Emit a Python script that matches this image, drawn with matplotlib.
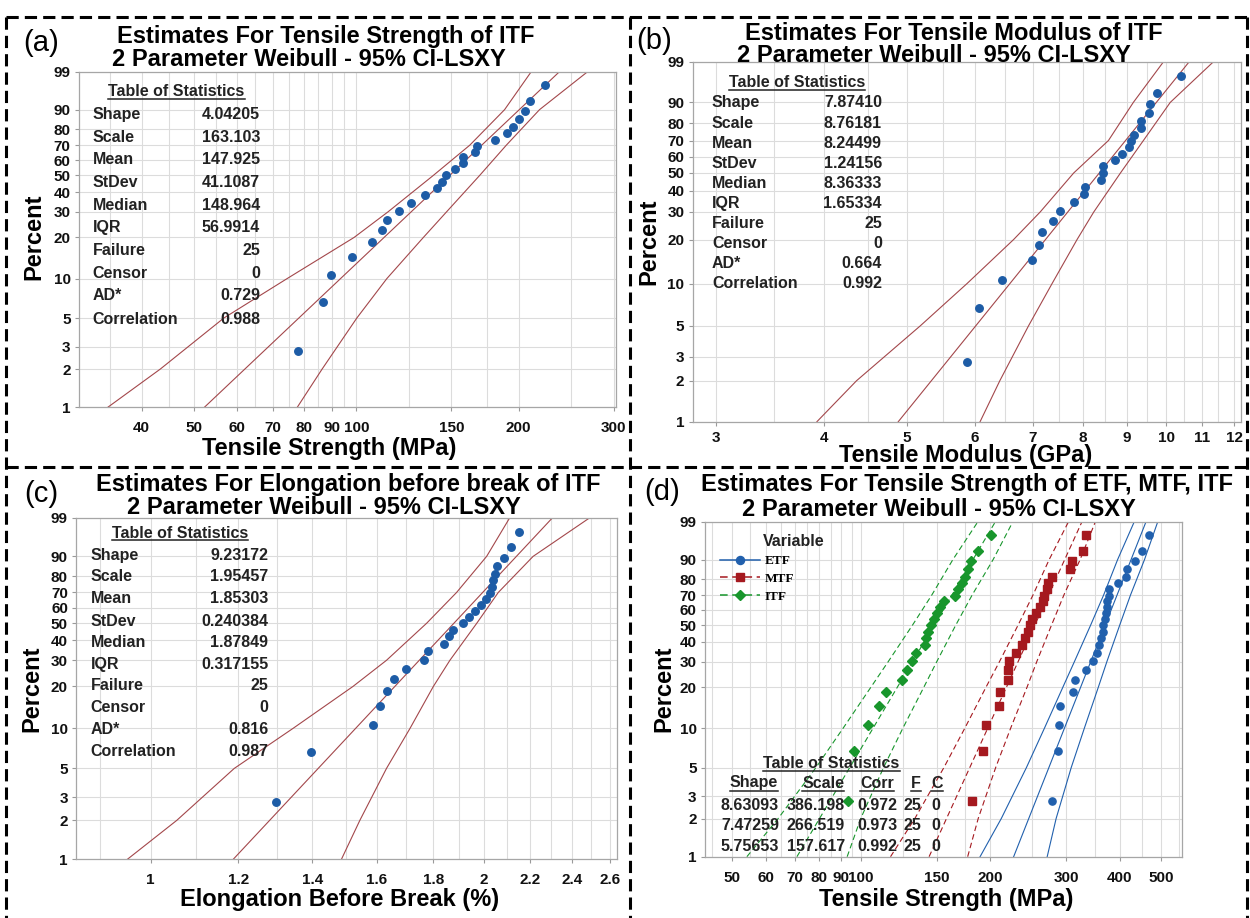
import numpy as np
import matplotlib
matplotlib.use("Agg")
import matplotlib.pyplot as plt
from matplotlib.lines import Line2D
from matplotlib.ticker import NullLocator, NullFormatter

plt.rcParams['font.family'] = ['Liberation Sans', 'DejaVu Sans']

W, H = 1250, 918

#------------------------------------------------------------------------
# Data
#------------------------------------------------------------------------

# plotting position (percent) of the 25 ranked specimens
pct = [2.76, 6.69, 10.63, 14.57, 18.50, 22.44, 26.38, 30.31, 34.25, 38.19,
       42.13, 46.06, 50.00, 53.94, 57.87, 61.81, 65.75, 69.69, 73.62, 77.56,
       81.50, 85.43, 89.37, 93.31, 97.24]
pct_ticks = [1, 2, 3, 5, 10, 20, 30, 40, 50, 60, 70, 80, 90, 99]
band_pct = [1, 2, 5, 10, 20, 30, 50, 70, 90, 99]
stat_names = ["Shape", "Scale", "Mean", "StDev", "Median", "IQR",
              "Failure", "Censor", "AD*", "Correlation"]

# (a) tensile strength of ITF
a_vals = [77.9, 86.7, 89.9, 98.1, 107.0, 111.6, 114.0, 120.0, 126.3, 134.1,
          140.9, 144.0, 146.8, 152.1, 157.4, 157.7, 166.0, 167.4, 180.8, 190.0,
          195.2, 200.3, 205.5, 210.1, 223.4]
a_shape, a_scale = 4.04205, 163.103
a_ci_left = [34.6, 43.3, 56.8, 74.4, 99.0, 114.5, 138.9, 162.3, 188.3, 211.0]
a_ci_right = [77.7, 86.4, 100.2, 113.9, 133.1, 147.0, 169.3, 189.7, 218.6, 268.4]
a_stats = ["4.04205", "163.103", "147.925", "41.1087", "148.964", "56.9914",
           "25", "0", "0.729", "0.988"]
a_xticks = [40, 50, 60, 70, 80, 90, 100, 150, 200, 300]
a_xgrid = [35, 45, 55, 65, 75, 85, 95, 125, 175, 250]

# (b) tensile modulus of ITF
b_vals = [5.87, 6.07, 6.44, 6.99, 7.12, 7.17, 7.39, 7.52, 7.82, 8.02,
          8.04, 8.40, 8.44, 8.45, 8.73, 8.88, 9.06, 9.11, 9.18, 9.35,
          9.36, 9.54, 9.59, 9.76, 10.41]
b_shape, b_scale = 7.87410, 8.76181
b_ci_left = [3.93, 4.37, 5.18, 5.87, 6.65, 7.14, 7.81, 8.57, 9.16, 9.93]
b_ci_right = [6.08, 6.41, 6.92, 7.37, 7.88, 8.24, 8.85, 9.41, 10.11, 11.35]
b_stats = ["7.87410", "8.76181", "8.24499", "1.24156", "8.36333", "1.65334",
           "25", "0", "0.664", "0.992"]
b_xticks = [3, 4, 5, 6, 7, 8, 9, 10, 11, 12]
b_xgrid = [3.5, 4.5, 5.5, 6.5, 7.5, 8.5, 9.5, 10.5, 11.5]

# (c) elongation before break of ITF
c_vals = [1.298, 1.396, 1.589, 1.611, 1.636, 1.660, 1.702, 1.764, 1.779, 1.839,
          1.859, 1.877, 1.914, 1.939, 1.961, 1.988, 2.010, 2.025, 2.033, 2.038,
          2.045, 2.053, 2.084, 2.114, 2.151]
c_shape, c_scale = 9.23172, 1.95457
c_ci_left = [0.953, 1.056, 1.19, 1.345, 1.523, 1.633, 1.775, 1.889, 2.011, 2.110]
c_ci_right = [1.487, 1.545, 1.633, 1.715, 1.800, 1.863, 1.970, 2.060, 2.215, 2.492]
c_stats = ["9.23172", "1.95457", "1.85303", "0.240384", "1.87849", "0.317155",
           "25", "0", "0.816", "0.987"]
c_xticks = [1, 1.2, 1.4, 1.6, 1.8, 2, 2.2, 2.4, 2.6]
c_xgrid = [0.9, 1.1, 1.3, 1.5, 1.7, 1.9, 2.1, 2.3, 2.5]

# (d) tensile strength of ETF, MTF, ITF
d_names = ["ETF", "MTF", "ITF"]
d_etf = [277.7, 288.1, 288.7, 290.0, 311.1, 314.4, 334.6, 347.7, 355.2, 357.5,
         362.9, 366.8, 366.8, 369.2, 371.5, 373.1, 374.8, 377.1, 378.7, 397.0,
         414.2, 416.9, 433.3, 451.2, 468.9]
d_mtf = [181.1, 192.3, 195.6, 209.0, 210.4, 219.5, 219.5, 220.5, 229.1, 236.6,
         240.7, 244.3, 248.0, 250.7, 255.0, 260.5, 265.0, 267.3, 270.7, 273.0,
         278.9, 305.8, 309.1, 328.2, 334.6]
d_itf = [93.0, 96.4, 103.9, 110.0, 114.4, 124.6, 127.6, 131.4, 134.3, 140.7,
         141.7, 143.2, 145.6, 148.1, 150.4, 152.6, 155.9, 165.6, 168.1, 171.7,
         174.3, 177.3, 180.4, 187.0, 200.3]
d_shape = [8.63093, 7.47259, 5.75653]
d_scale = [386.198, 266.519, 157.617]
d_corr = ["0.972", "0.973", "0.992"]
d_fail = ["25", "25", "25"]
d_cens = ["0", "0", "0"]
d_etf_ci = ([189.3, 212.1, 242.7, 267.3, 295.1, 314.0, 342.4, 367.2, 395.8, 432.8],
            [271.3, 284.6, 308.6, 331.1, 356.9, 373.7, 400.2, 424.1, 457.2, 490.9])
d_mtf_ci = ([117.1, 133.4, 155.9, 174.4, 195.4, 210.1, 232.0, 251.4, 274.2, 304.2],
            [177.1, 187.4, 205.8, 223.0, 243.5, 256.6, 277.6, 296.7, 323.7, 351.3])
d_itf_ci = ([54.2, 64.1, 78.5, 90.8, 105.4, 115.7, 131.7, 146.1, 163.6, 187.1],
            [92.8, 99.8, 112.8, 125.1, 140.0, 150.1, 166.1, 181.4, 203.0, 225.7])
d_xticks = [50, 60, 70, 80, 90, 100, 150, 200, 300, 400, 500]
d_xgrid = [45, 55, 65, 75, 85, 95, 125, 175, 250, 350, 450, 550]

DOT = '#1d5ca6'
FIT = '#a3474b'
COLS = ['#2160ad', '#a5191f', '#18962c']
MARKS = ['o', 's', 'D']
MSIZE = [5.2, 5.4, 4.8]
STYLES = ['-', (0, (5, 3)), (0, (5, 3))]

#------------------------------------------------------------------------
# Helpers
#------------------------------------------------------------------------

fig = plt.figure(figsize=(W / 100, H / 100), dpi=100)

def fx(x):
    return x / W

def fy(y):
    return 1 - y / H

def put(x, y, s, **kw):
    return fig.text(fx(x), fy(y), s, **kw)

def underline(t, y, lw=1.1):
    bb = t.get_window_extent(fig.canvas.get_renderer())
    fig.add_artist(Line2D([bb.x0 / W, bb.x1 / W], [fy(y), fy(y)],
                          color='#222222', lw=lw))

def wfwd(p):
    p = np.clip(np.asarray(p, dtype=float), 1e-4, 100 - 1e-4)
    return np.log(-np.log(1 - p / 100))

def winv(w):
    return 100 * (1 - np.exp(-np.exp(w)))

def weibull_x(shape, scale, p):
    return scale * (-np.log(1 - np.asarray(p, dtype=float) / 100)) ** (1 / shape)

def weibull_axes(box, xlim, xticks, xgrid, xpad):
    l, t, r, b = box
    ax = fig.add_axes([fx(l), fy(b), (r - l) / W, (b - t) / H])
    ax.set_xscale('log')
    ax.set_yscale('function', functions=(wfwd, winv))
    ax.set_xlim(xlim)
    ax.set_ylim(1, 99)
    ax.set_xticks(xticks, [f'{v:g}' for v in xticks], fontsize=11, fontweight='bold')
    ax.set_xticks(xgrid, minor=True)
    ax.xaxis.set_minor_formatter(NullFormatter())
    ax.set_yticks(pct_ticks, [str(v) for v in pct_ticks], fontsize=11, fontweight='bold')
    ax.yaxis.set_minor_locator(NullLocator())
    ax.tick_params(which='major', length=3, width=0.8, color='#9a9a9a',
                   labelcolor='#111111')
    ax.tick_params(axis='x', pad=xpad)
    ax.tick_params(axis='y', pad=3)
    ax.tick_params(which='minor', length=0)
    ax.grid(True, which='both', color='#dcdcdc', lw=0.8)
    ax.set_axisbelow(True)
    for s in ax.spines.values():
        s.set_color('#a6a6a6')
        s.set_linewidth(0.9)
    return ax

def single_panel(ax, vals, shape, scale, ci_left, ci_right):
    ends = [1, 99]
    ax.plot(weibull_x(shape, scale, ends), ends, color=FIT, lw=0.8)
    ax.plot(ci_left, band_pct, color=FIT, lw=0.8)
    ax.plot(ci_right, band_pct, color=FIT, lw=0.8)
    ax.plot(vals, pct, 'o', color=DOT, mec=DOT, ms=5.4, zorder=4)

def stats_table(x_lab, x_val, x_head, y_head, ys, vals):
    t = put(x_head, y_head, "Table of Statistics", ha='center', va='baseline',
            fontsize=11.5, fontweight='bold', color='#222222')
    underline(t, y_head + 2.5)
    for name, v, y in zip(stat_names, vals, ys):
        put(x_lab, y, name, ha='left', va='baseline', fontsize=11.5,
            fontweight='bold', color='#222222')
        put(x_val, y, v, ha='right', va='baseline', fontsize=11.5,
            fontweight='bold', color='#222222')

def headings(label, lx, ly, t1, t1x, t1y, t2, t2x, t2y, xl, xlx, xly, ylx, yly):
    put(lx, ly, label, ha='center', va='center', fontsize=21)
    put(t1x, t1y, t1, ha='center', va='baseline', fontsize=17, fontweight='bold')
    put(t2x, t2y, t2, ha='center', va='baseline', fontsize=17, fontweight='bold')
    put(xlx, xly, xl, ha='center', va='baseline', fontsize=17, fontweight='bold')
    put(ylx, yly, "Percent", ha='center', va='baseline', fontsize=17,
        fontweight='bold', rotation=90, rotation_mode='anchor')

SUB = "2 Parameter Weibull - 95% CI-LSXY"

#------------------------------------------------------------------------
# (a)
#------------------------------------------------------------------------
ax = weibull_axes((79, 71.7, 616, 407.3), (30.6, 303), a_xticks, a_xgrid, 7)
single_panel(ax, a_vals, a_shape, a_scale, a_ci_left, a_ci_right)
headings("(a)", 41, 43, "Estimates For Tensile Strength of ITF", 326, 43.5,
         SUB, 309, 66, "Tensile Strength (MPa)", 329, 455, 40, 236.7)
stats_table(92.4, 260, 176.5, 96.5,
            [y + 5.5 for y in [113.3, 136, 158.7, 181.3, 204, 226.7, 249.3, 272.7, 295, 318.3]],
            a_stats)

#------------------------------------------------------------------------
# (b)
#------------------------------------------------------------------------
ax = weibull_axes((692.8, 61.7, 1240.5, 421.7), (2.82, 12.2), b_xticks, b_xgrid, 4)
single_panel(ax, b_vals, b_shape, b_scale, b_ci_left, b_ci_right)
headings("(b)", 654, 41, "Estimates For Tensile Modulus of ITF", 954, 40.5,
         SUB, 933.5, 62.5, "Tensile Modulus (GPa)", 966, 462, 655, 241.7)
stats_table(712, 882, 797, 87.2,
            [y + 5.5 for y in [101.7, 122.3, 142.3, 162.3, 182.3, 202.3, 222.3, 242.3, 262.3, 282.7]],
            b_stats)

#------------------------------------------------------------------------
# (c)
#------------------------------------------------------------------------
ax = weibull_axes((76.3, 517.7, 616.5, 859.3), (0.857, 2.634), c_xticks, c_xgrid, 7)
single_panel(ax, c_vals, c_shape, c_scale, c_ci_left, c_ci_right)
headings("(c)", 41, 494, "Estimates For Elongation before break of ITF", 348.4, 491,
         SUB, 324.3, 514, "Elongation Before Break (%)", 340, 906, 38, 688.3)
stats_table(90.4, 268.3, 180, 537.8,
            [y + 5.5 for y in [554.3, 575.7, 597.7, 620, 641.7, 663.3, 685, 706.7, 728.3, 750.7]],
            c_stats)

#------------------------------------------------------------------------
# (d)
#------------------------------------------------------------------------
ax = weibull_axes((705, 521.7, 1182, 856.7), (43.3, 559), d_xticks, d_xgrid, 7)
ends = [1, 99]
handles = []
for i, (vals, ci) in enumerate(zip([d_etf, d_mtf, d_itf], [d_etf_ci, d_mtf_ci, d_itf_ci])):
    ax.plot(weibull_x(d_shape[i], d_scale[i], ends), ends, color=COLS[i],
            lw=0.8, ls=STYLES[i])
    ax.plot(ci[0], band_pct, color=COLS[i], lw=0.8, ls=STYLES[i])
    ax.plot(ci[1], band_pct, color=COLS[i], lw=0.8, ls=STYLES[i])
    ax.plot(vals, pct, MARKS[i], color=COLS[i], mec=COLS[i], ms=MSIZE[i], zorder=4)
    handles.append(Line2D([], [], color=COLS[i], lw=1.1, ls=STYLES[i],
                          marker=MARKS[i], ms=MSIZE[i] + 0.6))
ax.legend(handles, d_names, loc='upper left', bbox_to_anchor=(fx(720), fy(555)),
          bbox_transform=fig.transFigure, frameon=False, borderpad=0,
          borderaxespad=0, handlelength=3.0, handletextpad=0.4, labelspacing=0.42,
          prop={'family': ['Liberation Serif', 'DejaVu Serif'], 'size': 9.5,
                'weight': 'bold'})
put(763, 546.5, "Variable", ha='left', va='baseline', fontsize=11.5,
    fontweight='bold', color='#222222')

headings("(d)", 662, 492, "Estimates For Tensile Strength of ETF, MTF, ITF", 966.8, 491,
         SUB, 939, 516, "Tensile Strength (MPa)", 946, 906, 670, 688.3)

t = put(831.5, 768, "Table of Statistics", ha='center', va='baseline',
        fontsize=11.5, fontweight='bold', color='#222222')
underline(t, 770.5)
col_x = [753.7, 823.3, 877, 915.7, 937]
for name, x in zip(["Shape", "Scale", "Corr", "F", "C"], col_x):
    t = put(x, 787.5, name, ha='center', va='baseline', fontsize=11.5,
            fontweight='bold', color='#222222')
    underline(t, 791)
val_x = [750, 816, 877, 912.5, 936]
for r, y in enumerate([809.5, 830.5, 851]):
    row = [f'{d_shape[r]:.5f}', f'{d_scale[r]:.3f}', d_corr[r], d_fail[r], d_cens[r]]
    for s, x in zip(row, val_x):
        put(x, y, s, ha='center', va='baseline', fontsize=11.5,
            fontweight='bold', color='#222222')

#------------------------------------------------------------------------
# dashed frame round the four panels
#------------------------------------------------------------------------
dash = dict(color='black', lw=2.2, ls=(0, (4, 2)))
fig.add_artist(Line2D([fx(6), fx(1250)], [fy(17), fy(17)], **dash))
fig.add_artist(Line2D([fx(6), fx(1250)], [fy(467), fy(467)], **dash))
fig.add_artist(Line2D([fx(6), fx(6)], [fy(17), fy(918)], **dash))
fig.add_artist(Line2D([fx(630), fx(630)], [fy(17), fy(918)], **dash))
fig.add_artist(Line2D([fx(1247), fx(1247)], [fy(17), fy(918)], **dash))

fig.savefig('out.png', dpi=100)
